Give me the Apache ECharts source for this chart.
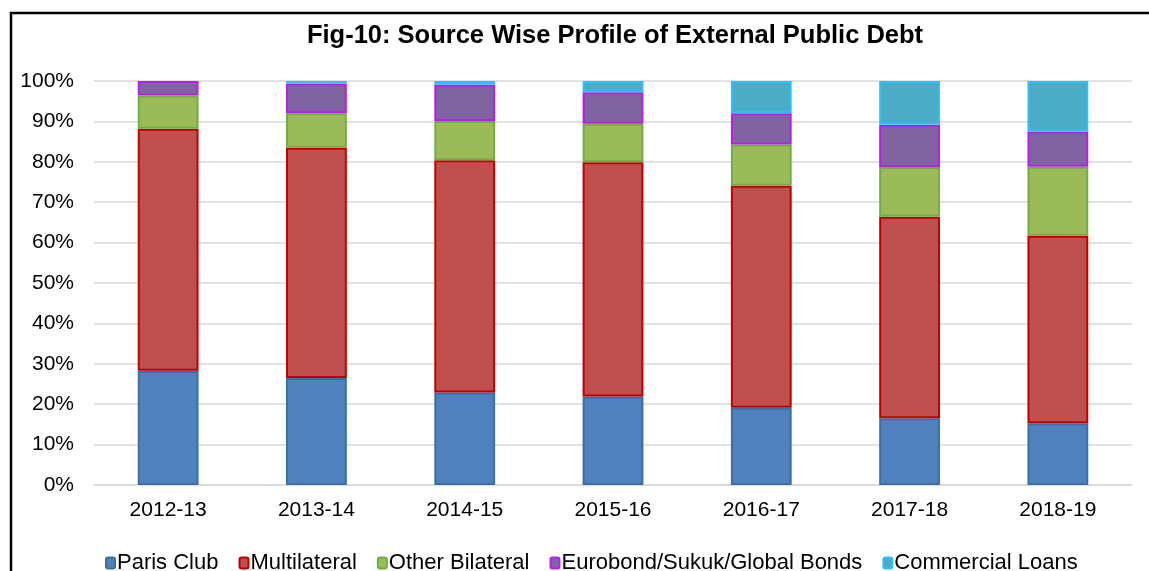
<!DOCTYPE html>
<html>
<head>
<meta charset="utf-8">
<script src="https://cdn.jsdelivr.net/npm/echarts@6/dist/echarts.min.js"></script>
<style>
  html, body { margin: 0; padding: 0; background: #fff; }
  #main { width: 1149px; height: 571px; }
</style>
</head>
<body>
<div id="main"></div>
<script>
// data (share of total, %)
var years = ['2012-13', '2013-14', '2014-15', '2015-16', '2016-17', '2017-18', '2018-19'];
var parisClub = [28.3, 26.5, 22.9, 21.9, 19.1, 16.5, 15.3];
var multilateral = [59.9, 57.0, 57.5, 58.0, 55.0, 49.9, 46.4];
var otherBilateral = [8.2, 8.5, 9.7, 9.5, 10.2, 12.3, 17.1];
var eurobond = [3.6, 7.3, 9.0, 7.8, 7.7, 10.5, 8.7];
var commercialLoans = [0, 0.7, 0.9, 2.8, 8.0, 10.8, 12.5];

var font = 'Liberation Sans, Arial, sans-serif';

function bar(name, data, fill, border) {
    return {
        name: name,
        type: 'bar',
        stack: 'debt',
        barWidth: '41%',
        data: data.map(function (v) { return v === 0 ? '-' : v; }),
        itemStyle: { color: fill, borderColor: border, borderWidth: 2 },
        emphasis: { disabled: true }
    };
}

var myChart = echarts.init(document.getElementById('main'));
var option = {
    backgroundColor: '#fff',
    animation: false,
    title: {
        text: 'Fig-10: Source Wise Profile of External Public Debt',
        left: 610,
        textAlign: 'center',
        top: 18,
        textStyle: { fontFamily: font, fontSize: 25.5, fontWeight: 'bold', color: '#000' }
    },
    graphic: [{
        type: 'rect',
        shape: { x: 11, y: 13, width: 1300, height: 700 },
        style: { fill: 'none', stroke: '#000', lineWidth: 2.5 },
        silent: true
    }],
    legend: {
        top: 547,
        left: 100,
        itemWidth: 9,
        itemHeight: 11,
        itemGap: 20,
        textStyle: { fontFamily: font, fontSize: 22, color: '#000', padding: [0, 0, 0, -3] },
        data: ['Paris Club', 'Multilateral', 'Other Bilateral', 'Eurobond/Sukuk/Global Bonds', 'Commercial Loans']
    },
    grid: { left: 94, right: 17, top: 81, bottom: 86 },
    xAxis: {
        type: 'category',
        data: years,
        axisTick: { show: false },
        axisLine: { lineStyle: { color: '#d9d9d9', width: 1.5 } },
        axisLabel: { fontFamily: font, fontSize: 21, color: '#000', margin: 15 }
    },
    yAxis: {
        type: 'value',
        min: 0,
        max: 100,
        interval: 10,
        axisLine: { show: false },
        axisTick: { show: false },
        splitLine: { lineStyle: { color: '#d9d9d9', width: 1.5 } },
        axisLabel: { fontFamily: font, fontSize: 21, color: '#000', margin: 20, formatter: '{value}%' }
    },
    series: [
        bar('Paris Club', parisClub, '#4F81BD', '#3B6EA8'),
        bar('Multilateral', multilateral, '#C0504D', '#C00000'),
        bar('Other Bilateral', otherBilateral, '#9BBB59', '#70AD47'),
        bar('Eurobond/Sukuk/Global Bonds', eurobond, '#8064A2', '#B81EE8'),
        bar('Commercial Loans', commercialLoans, '#4BACC6', '#2EC1F5')
    ]
};
myChart.setOption(option);
</script>
</body>
</html>
